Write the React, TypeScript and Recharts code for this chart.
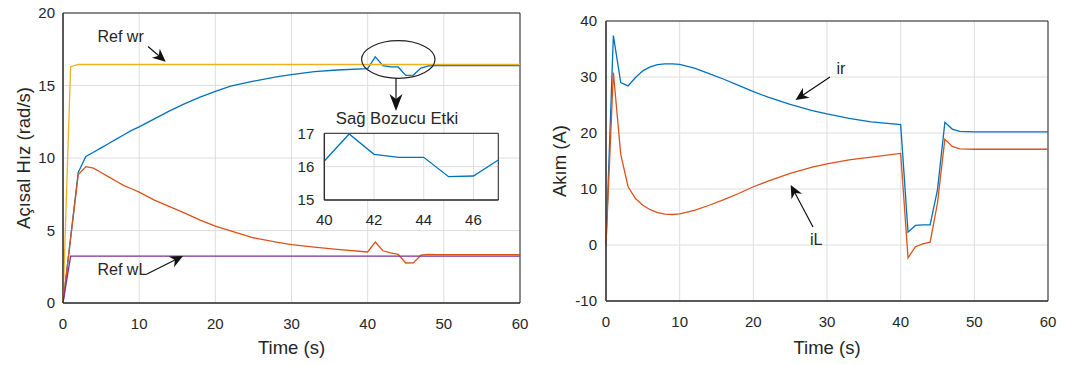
import React from 'react';
import { LineChart, Line, XAxis, YAxis, CartesianGrid, ReferenceArea } from 'recharts';

const FONT = '"Liberation Sans", Arial, Helvetica, sans-serif';
const INK = '#262626';
const GRID = '#dedede';

// left panel: angular speed (rad/s)
const speedTime = [0, 1, 2, 3, 4, 5, 6, 7, 8, 9, 10, 12, 14, 16, 18, 20, 22, 25, 28, 30, 33, 36, 40, 41, 42, 43, 44, 45, 46, 47, 48, 49, 50, 55, 60];
const wr = [0, 4.5, 9.0, 10.1, 10.4, 10.7, 11.0, 11.3, 11.6, 11.9, 12.15, 12.7, 13.25, 13.75, 14.2, 14.6, 14.95, 15.3, 15.6, 15.75, 15.95, 16.07, 16.17, 16.98, 16.37, 16.28, 16.28, 15.7, 15.72, 16.2, 16.35, 16.38, 16.38, 16.38, 16.38];
const wL = [0, 4.45, 8.85, 9.4, 9.3, 9.0, 8.7, 8.4, 8.1, 7.88, 7.65, 7.1, 6.65, 6.2, 5.72, 5.3, 4.97, 4.5, 4.2, 4.03, 3.85, 3.7, 3.52, 4.2, 3.6, 3.45, 3.36, 2.76, 2.77, 3.3, 3.35, 3.34, 3.33, 3.33, 3.33];
const refWr = [0, 16.3, 16.45, 16.45, 16.45, 16.45, 16.45, 16.45, 16.45, 16.45, 16.45, 16.45, 16.45, 16.45, 16.45, 16.45, 16.45, 16.45, 16.45, 16.45, 16.45, 16.45, 16.45, 16.45, 16.45, 16.45, 16.45, 16.45, 16.45, 16.45, 16.45, 16.45, 16.45, 16.45, 16.45];
const refWL = [0, 3.23, 3.23, 3.23, 3.23, 3.23, 3.23, 3.23, 3.23, 3.23, 3.23, 3.23, 3.23, 3.23, 3.23, 3.23, 3.23, 3.23, 3.23, 3.23, 3.23, 3.23, 3.23, 3.23, 3.23, 3.23, 3.23, 3.23, 3.23, 3.23, 3.23, 3.23, 3.23, 3.23, 3.23];

// right panel: current (A)
const currentTime = [0, 1, 2, 3, 4, 5, 6, 7, 8, 9, 10, 12, 14, 16, 18, 20, 22, 25, 28, 30, 33, 36, 40, 41, 42, 43, 44, 45, 46, 47, 48, 50, 55, 60];
const ir = [0, 37.4, 29.0, 28.4, 29.9, 31.1, 31.8, 32.2, 32.35, 32.35, 32.25, 31.6, 30.6, 29.6, 28.5, 27.4, 26.4, 25.1, 24.0, 23.4, 22.6, 22.0, 21.5, 2.3, 3.5, 3.6, 3.6, 9.9, 21.9, 20.7, 20.3, 20.2, 20.2, 20.2];
const iL = [0, 30.8, 16.2, 10.4, 8.3, 7.1, 6.3, 5.8, 5.5, 5.45, 5.55, 6.2, 7.1, 8.1, 9.2, 10.4, 11.4, 12.8, 13.9, 14.5, 15.2, 15.7, 16.35, -2.3, -0.3, 0.2, 0.5, 7.5, 18.9, 17.6, 17.15, 17.1, 17.1, 17.1];

const timeTicks = [0, 10, 20, 30, 40, 50, 60];
const speedTicks = [0, 5, 10, 15, 20];
const currentTicks = [-10, 0, 10, 20, 30, 40];
const insetTimeTicks = [40, 42, 44, 46];
const insetSpeedTicks = [15, 16, 17];
const insetRange = [40, 47];

const speedData = speedTime.map((t, i) => ({ t, wr: wr[i], wL: wL[i], refWr: refWr[i], refWL: refWL[i] }));
const currentData = currentTime.map((t, i) => ({ t, ir: ir[i], iL: iL[i] }));
const insetData = speedData.filter((d) => d.t >= insetRange[0] && d.t <= insetRange[1]);

const tickStyle = { fill: INK, fontSize: 15, fontFamily: FONT };

const Arrow = ({ x1, y1, x2, y2, len = 13, half = 6 }: { x1: number; y1: number; x2: number; y2: number; len?: number; half?: number }) => {
  const d = Math.hypot(x2 - x1, y2 - y1);
  const ux = (x2 - x1) / d;
  const uy = (y2 - y1) / d;
  const bx = x2 - ux * len;
  const by = y2 - uy * len;
  const nx = x2 - ux * len * 0.7;
  const ny = y2 - uy * len * 0.7;
  const pts = [
    [x2, y2],
    [bx - uy * half, by + ux * half],
    [nx, ny],
    [bx + uy * half, by - ux * half],
  ].map((p) => p.join(',')).join(' ');
  return (
    <g>
      <line x1={x1} y1={y1} x2={nx} y2={ny} stroke="#111" strokeWidth={1.2} />
      <polygon points={pts} fill="#111" />
    </g>
  );
};

export default function App() {
  return (
    <div style={{ position: 'absolute', left: 0, top: 0, width: 1065, height: 365, background: '#fff', fontFamily: FONT }}>
      <div style={{ position: 'absolute', left: 0, top: 0 }}>
        <LineChart width={540} height={365} data={speedData} margin={{ top: 13, right: 20, bottom: 32, left: 18 }}>
          <CartesianGrid stroke={GRID} ticks={undefined} />
          <XAxis dataKey="t" type="number" domain={[0, 60]} ticks={timeTicks} tick={tickStyle} tickLine={false} tickSize={0} tickMargin={15} height={30} stroke={INK} />
          <YAxis type="number" domain={[0, 20]} ticks={speedTicks} tick={tickStyle} tickLine={false} tickSize={0} tickMargin={8} width={45} stroke={INK} />
          <ReferenceArea x1={0} x2={60} y1={0} y2={20} fill="none" stroke={INK} strokeWidth={1} />
          <Line dataKey="wr" stroke="#0072BD" strokeWidth={1.3} dot={false} isAnimationActive={false} />
          <Line dataKey="wL" stroke="#D95319" strokeWidth={1.3} dot={false} isAnimationActive={false} />
          <Line dataKey="refWr" stroke="#EDB120" strokeWidth={1.3} dot={false} isAnimationActive={false} />
          <Line dataKey="refWL" stroke="#7E2F8E" strokeWidth={1.3} dot={false} isAnimationActive={false} />
        </LineChart>
      </div>

      <div style={{ position: 'absolute', left: 540, top: 0 }}>
        <LineChart width={525} height={365} data={currentData} margin={{ top: 21, right: 17, bottom: 34, left: 21 }}>
          <CartesianGrid stroke={GRID} />
          <XAxis dataKey="t" type="number" domain={[0, 60]} ticks={timeTicks} tick={tickStyle} tickLine={false} tickSize={0} tickMargin={15} height={30} stroke={INK} />
          <YAxis type="number" domain={[-10, 40]} ticks={currentTicks} tick={tickStyle} tickLine={false} tickSize={0} tickMargin={9} width={45} stroke={INK} />
          <ReferenceArea x1={0} x2={60} y1={-10} y2={40} fill="none" stroke={INK} strokeWidth={1} />
          <Line dataKey="ir" stroke="#0072BD" strokeWidth={1.3} dot={false} isAnimationActive={false} />
          <Line dataKey="iL" stroke="#D95319" strokeWidth={1.3} dot={false} isAnimationActive={false} />
        </LineChart>
      </div>

      <div style={{ position: 'absolute', left: 280, top: 100 }}>
        <LineChart width={230} height={140} data={insetData} margin={{ top: 33.3, right: 11.7, bottom: 15, left: 14.3 }}>
          <CartesianGrid stroke={GRID} fill="#fff" fillOpacity={1} />
          <XAxis dataKey="t" type="number" domain={insetRange} ticks={insetTimeTicks} tick={tickStyle} tickLine={false} tickSize={0} tickMargin={14} height={25} stroke={INK} />
          <YAxis type="number" domain={[15, 17]} ticks={insetSpeedTicks} tick={tickStyle} tickLine={false} tickSize={0} tickMargin={10} width={30} stroke={INK} />
          <ReferenceArea x1={40} x2={47} y1={15} y2={17} fill="none" stroke={INK} strokeWidth={1} />
          <Line dataKey="wr" stroke="#0072BD" strokeWidth={1.3} dot={false} isAnimationActive={false} />
        </LineChart>
      </div>

      <svg width={1065} height={365} style={{ position: 'absolute', left: 0, top: 0, pointerEvents: 'none' }}>
        <g fontFamily={FONT} fill={INK}>
          <text x={30} y={158} fontSize={18.5} textAnchor="middle" transform="rotate(-90 30 158)">Açısal Hız (rad/s)</text>
          <text x={291.5} y={354} fontSize={18.5} textAnchor="middle">Time (s)</text>
          <text x={566} y={161} fontSize={18.5} textAnchor="middle" transform="rotate(-90 566 161)">Akım (A)</text>
          <text x={827} y={354} fontSize={18.5} textAnchor="middle">Time (s)</text>

          <text x={397} y={124} fontSize={16.7} textAnchor="middle">Sağ Bozucu Etki</text>
          <text x={97.5} y={41.5} fontSize={16}>Ref wr</text>
          <text x={97.5} y={274.5} fontSize={16}>Ref wL</text>
          <text x={836.5} y={74} fontSize={16}>ir</text>
          <text x={810} y={245} fontSize={16}>iL</text>
        </g>
        <ellipse cx={398.3} cy={59.5} rx={36.7} ry={18.8} fill="none" stroke="#222" strokeWidth={1.2} />
        <Arrow x1={396} y1={78} x2={396} y2={111} len={17} half={6.5} />
        <Arrow x1={148} y1={46.5} x2={165.7} y2={61.7} />
        <Arrow x1={147} y1={274} x2={183} y2={256} />
        <Arrow x1={830} y1={77} x2={795.5} y2={100} />
        <Arrow x1={813} y1={227} x2={790.7} y2={185} />
      </svg>
    </div>
  );
}
